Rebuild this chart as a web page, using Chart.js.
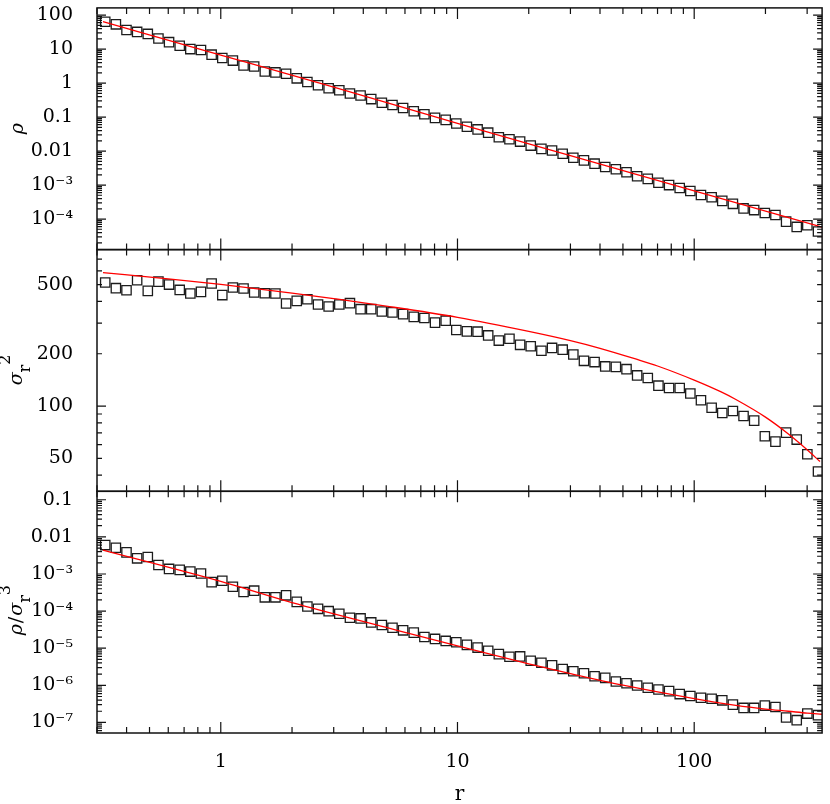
<!DOCTYPE html>
<html>
<head>
<meta charset="utf-8">
<script src="https://cdn.jsdelivr.net/npm/chart.js@4.4.1/dist/chart.umd.min.js"></script>
<style>
  html, body { margin: 0; padding: 0; background: #fff; }
  #wrap { width: 830px; height: 804px; }
</style>
</head>
<body>
<div id="wrap"><canvas id="profileChart" width="830" height="804"></canvas></div>
<script>
// radius of each bin (same bins in all three panels)
const rData = [
    0.325, 0.3605, 0.3997, 0.4433, 0.4917, 0.5453, 0.6047, 0.6707, 0.7438, 0.8249,
    0.9149, 1.015, 1.125, 1.248, 1.384, 1.535, 1.702, 1.888, 2.094, 2.322,
    2.576, 2.856, 3.168, 3.513, 3.896, 4.321, 4.791, 5.314, 5.893, 6.536,
    7.248, 8.038, 8.916, 9.886, 10.96, 12.16, 13.48, 14.95, 16.58, 18.39,
    20.39, 22.62, 25.09, 27.82, 30.86, 34.22, 37.95, 42.09, 46.68, 51.77,
    57.41, 63.67, 70.62, 78.32, 86.86, 96.32, 106.8, 118.5, 131.4, 145.7,
    161.6, 179.2, 198.8, 220.4, 244.5, 271.1, 300.6, 333.4
];

// density
const rhoData = [
    63.8, 53.5, 36.6, 32.0, 28.0, 20.5, 16.0, 12.5, 10.0, 9.37,
    6.86, 5.48, 4.59, 3.28, 3.07, 2.20, 2.06, 1.88, 1.38, 1.08,
    0.861, 0.705, 0.616, 0.493, 0.431, 0.338, 0.264, 0.226, 0.185, 0.148,
    0.121, 0.0946, 0.0827, 0.0647, 0.0518, 0.0433, 0.0347, 0.0254, 0.0222, 0.0190,
    0.0145, 0.0116, 0.0104, 0.0083, 6.35e-3, 5.32e-3, 4.26e-3, 3.40e-3, 2.91e-3, 2.38e-3,
    1.82e-3, 1.52e-3, 1.17e-3, 9.98e-4, 8.17e-4, 6.68e-4, 5.11e-4, 4.37e-4, 3.42e-4, 2.80e-4,
    2.05e-4, 1.83e-4, 1.50e-4, 1.31e-4, 8.38e-5, 5.86e-5, 6.56e-5, 4.30e-5
];

// radial velocity dispersion squared
const sigma2Data = [
    514, 477, 464, 530, 460, 520, 500, 466, 444, 454,
    507, 435, 481, 475, 450, 446, 444, 389, 403, 412,
    384, 374, 384, 391, 361, 361, 350, 346, 338, 326,
    321, 302, 310, 274, 269, 268, 255, 238, 244, 225,
    221, 208, 216, 211, 198, 182, 179, 169, 168, 163,
    150, 145, 131, 127, 127, 118, 108, 97.8, 91.2, 93.6,
    87.6, 82.4, 67.0, 62.4, 70.3, 64.1, 52.8, 42.0
];

// rho / sigma_r^3
const ratioData = [
    6.0e-3, 5.08e-3, 3.82e-3, 2.64e-3, 2.86e-3, 1.75e-3, 1.37e-3, 1.29e-3, 1.16e-3, 1.03e-3,
    6.03e-4, 6.56e-4, 4.53e-4, 3.27e-4, 3.55e-4, 2.35e-4, 2.35e-4, 2.66e-4, 1.77e-4, 1.33e-4,
    1.15e-4, 9.95e-5, 8.45e-5, 6.61e-5, 6.34e-5, 4.96e-5, 4.21e-5, 3.57e-5, 3.03e-5, 2.63e-5,
    2.01e-5, 1.78e-5, 1.57e-5, 1.45e-5, 1.23e-5, 1.04e-5, 8.51e-6, 6.93e-6, 5.89e-6, 6.01e-6,
    4.60e-6, 4.07e-6, 3.45e-6, 2.76e-6, 2.39e-6, 2.11e-6, 1.76e-6, 1.59e-6, 1.27e-6, 1.14e-6,
    9.90e-7, 8.57e-7, 7.74e-7, 6.98e-7, 5.81e-7, 5.14e-7, 4.64e-7, 4.36e-7, 3.94e-7, 3.02e-7,
    2.46e-7, 2.46e-7, 2.84e-7, 2.61e-7, 1.36e-7, 1.15e-7, 1.73e-7, 1.57e-7
];

// model curves (red lines)
const rhoModelR = [0.318, 1, 3, 10, 30, 100, 347];
const rhoModel = [63.8, 6.7, 0.764, 0.0647, 7.3e-3, 6.7e-4, 5.75e-5];

const sigma2ModelR = [0.318, 0.6, 1, 2, 3, 5, 10, 20, 30, 40, 57, 70, 100, 130, 150, 200, 250, 300, 340];
const sigma2Model = [586, 540, 502, 447, 415, 376, 324, 269, 238, 215, 186, 170, 141, 120.5, 109, 86.3, 69.0, 56.0, 47.9];

const ratioModelR = [0.318, 1, 2, 5, 10, 20, 30, 50, 100, 150, 200, 250, 300, 347];
const ratioModel = [4.4e-3, 6.3e-4, 1.69e-4, 3.63e-5, 1.15e-5, 3.80e-6, 2.07e-6, 1.01e-6, 4.40e-7, 2.88e-7, 2.29e-7, 2.0e-7, 1.78e-7, 1.66e-7];

// axis ranges and labelled ticks
const xRange = [0.318, 347];
const xTicks = [1, 10, 100];
const xTickLabels = ['1', '10', '100'];

const rhoRange = [1.26e-5, 163];
const rhoTicks = [1e-4, 1e-3, 0.01, 0.1, 1, 10, 100];
const rhoTickLabels = ['10⁻⁴', '10⁻³', '0.01', '0.1', '1', '10', '100'];

const sigma2Range = [32.3, 795];
const sigma2Ticks = [50, 100, 200, 500];
const sigma2TickLabels = ['50', '100', '200', '500'];

const ratioRange = [5.19e-8, 0.169];
const ratioTicks = [1e-7, 1e-6, 1e-5, 1e-4, 1e-3, 0.01, 0.1];
const ratioTickLabels = ['10⁻⁷', '10⁻⁶', '10⁻⁵', '10⁻⁴', '10⁻³', '0.01', '0.1'];

const SERIF = '"DejaVu Serif", "Liberation Serif", serif';

function pairs(xs, ys) {
    return xs.map((x, i) => ({ x: x, y: ys[i] }));
}

// square markers
function pointSet(values, axis) {
    return {
        data: pairs(rData, values),
        yAxisID: axis,
        showLine: false,
        pointStyle: 'rect',
        pointRadius: 6.6,
        pointBorderWidth: 1.3,
        pointBorderColor: '#1c1c1c',
        pointBackgroundColor: 'rgba(0,0,0,0)',
        order: 2
    };
}

// red model line
function modelSet(xs, ys, axis) {
    return {
        data: pairs(xs, ys),
        yAxisID: axis,
        showLine: true,
        borderColor: '#ff0000',
        borderWidth: 1.3,
        pointRadius: 0,
        cubicInterpolationMode: 'monotone',
        order: 1
    };
}

// no extra room for labels that poke past the panel edges
function noPadding(scale) {
    scale.paddingTop = 0;
    scale.paddingBottom = 0;
    scale.paddingLeft = 0;
    scale.paddingRight = 0;
}

function yAxis(range, ticks, labels) {
    return {
        type: 'logarithmic',
        position: 'left',
        stack: 'panels',
        stackWeight: 1,
        min: range[0],
        max: range[1],
        grid: { display: false },
        border: { display: false },
        afterBuildTicks: scale => { scale.ticks = ticks.map(v => ({ value: v })); },
        afterFit: scale => { scale.width = 97; noPadding(scale); },
        ticks: {
            autoSkip: false,
            padding: 16,
            color: '#000',
            font: { family: SERIF, size: 19 },
            callback: (value, index) => labels[index]
        }
    };
}

// all decade/sub-decade positions inside a log range
function logSteps(min, max) {
    const out = [];
    for (let e = Math.floor(Math.log10(min)); e <= Math.ceil(Math.log10(max)); e++) {
        for (let m = 1; m <= 9; m++) {
            const v = m * Math.pow(10, e);
            if (v >= min && v <= max) out.push({ v: v, major: m === 1 });
        }
    }
    return out;
}

// frames and inward tick marks on every side of each panel
const framePlugin = {
    id: 'frame',
    afterDatasetsDraw(chart) {
        const ctx = chart.ctx;
        const area = chart.chartArea;
        const xs = chart.scales.x;
        ctx.save();
        ctx.strokeStyle = '#111';
        ['y1', 'y2', 'y3'].forEach(id => {
            const ys = chart.scales[id];
            ctx.lineWidth = 1.2;
            ctx.beginPath();
            logSteps(xs.min, xs.max).forEach(t => {
                const px = xs.getPixelForValue(t.v);
                const len = t.major ? 11 : 6;
                ctx.moveTo(px, ys.top); ctx.lineTo(px, ys.top + len);
                ctx.moveTo(px, ys.bottom); ctx.lineTo(px, ys.bottom - len);
            });
            logSteps(ys.min, ys.max).forEach(t => {
                const py = ys.getPixelForValue(t.v);
                const len = t.major ? 9 : 5;
                ctx.moveTo(area.left, py); ctx.lineTo(area.left + len, py);
                ctx.moveTo(area.right, py); ctx.lineTo(area.right - len, py);
            });
            ctx.stroke();
            ctx.lineWidth = 1.5;
            ctx.strokeRect(area.left, ys.top, area.right - area.left, ys.bottom - ys.top);
        });
        ctx.restore();
    }
};

// rotated y titles with sub/superscripts
function drawTitle(ctx, x, yc, parts) {
    ctx.save();
    ctx.translate(x, yc);
    ctx.rotate(-Math.PI / 2);
    ctx.fillStyle = '#000';
    ctx.textAlign = 'left';
    ctx.textBaseline = 'alphabetic';
    let total = 0;
    parts.forEach(p => {
        ctx.font = p.font;
        p.w = ctx.measureText(p.text).width;
        total += p.w + (p.gap || 0);
    });
    let pos = -total / 2;
    parts.forEach(p => {
        ctx.font = p.font;
        ctx.fillText(p.text, pos, p.dy || 0);
        pos += p.w + (p.gap || 0);
    });
    ctx.restore();
}

const titlePlugin = {
    id: 'titles',
    afterDraw(chart) {
        const ctx = chart.ctx;
        const greek = 'italic 19px ' + SERIF;
        const small = '16px ' + SERIF;
        const y1 = chart.scales.y1, y2 = chart.scales.y2, y3 = chart.scales.y3;
        drawTitle(ctx, 23, (y1.top + y1.bottom) / 2, [{ text: 'ρ', font: greek }]);
        drawTitle(ctx, 22, (y2.top + y2.bottom) / 2 - 0.5, [
            { text: 'σ', font: greek },
            { text: 'r', font: small, dy: 8 },
            { text: '2', font: small, dy: -12 }
        ]);
        drawTitle(ctx, 22, (y3.top + y3.bottom) / 2 - 2, [
            { text: 'ρ', font: greek, gap: 1 },
            { text: '/', font: '19px ' + SERIF, gap: 1 },
            { text: 'σ', font: greek },
            { text: 'r', font: small, dy: 8 },
            { text: '3', font: small, dy: -12 }
        ]);
    }
};

const chart = new Chart(document.getElementById('profileChart'), {
    type: 'scatter',
    data: {
        datasets: [
            pointSet(rhoData, 'y1'),
            modelSet(rhoModelR, rhoModel, 'y1'),
            pointSet(sigma2Data, 'y2'),
            modelSet(sigma2ModelR, sigma2Model, 'y2'),
            pointSet(ratioData, 'y3'),
            modelSet(ratioModelR, ratioModel, 'y3')
        ]
    },
    options: {
        responsive: false,
        animation: false,
        layout: { padding: { top: 1, right: 1, left: 0, bottom: 0 } },
        plugins: {
            legend: { display: false },
            tooltip: { enabled: false }
        },
        scales: {
            x: {
                type: 'logarithmic',
                position: 'bottom',
                min: xRange[0],
                max: xRange[1],
                grid: { display: false },
                border: { display: false },
                afterBuildTicks: scale => { scale.ticks = xTicks.map(v => ({ value: v })); },
                afterFit: scale => { scale.height = 71; noPadding(scale); },
                ticks: {
                    autoSkip: false,
                    maxRotation: 0,
                    padding: 10,
                    color: '#000',
                    font: { family: SERIF, size: 19 },
                    callback: (value, index) => xTickLabels[index]
                },
                title: {
                    display: true,
                    text: 'r',
                    color: '#000',
                    font: { family: SERIF, size: 20, lineHeight: 0.9 },
                    padding: { top: 0, bottom: 0 }
                }
            },
            // stacked panels: the last one listed ends up on top
            y3: yAxis(ratioRange, ratioTicks, ratioTickLabels),
            y2: yAxis(sigma2Range, sigma2Ticks, sigma2TickLabels),
            y1: yAxis(rhoRange, rhoTicks, rhoTickLabels)
        }
    },
    plugins: [framePlugin, titlePlugin]
});
</script>
</body>
</html>
